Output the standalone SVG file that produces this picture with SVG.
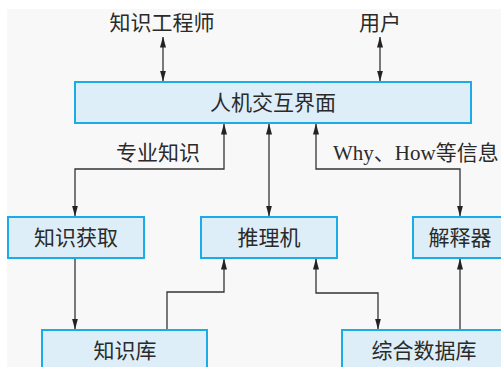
<svg xmlns="http://www.w3.org/2000/svg" width="501" height="367" viewBox="0 0 501 367">
<style>
.box{fill:#ddeef8;stroke:#1babe6;stroke-width:2}
.lbl{font-family:"Noto Sans CJK SC",sans-serif;font-size:21px;fill:#2a2a2a;text-anchor:middle}
.txt{font-family:"Liberation Serif","Noto Sans CJK SC",serif;font-size:21px;fill:#2a2a2a}
.cn{fill:none;stroke:#333;stroke-width:1.3;marker-end:url(#ah)}
.bi{marker-start:url(#ah)}
</style>
<defs>
<marker id="ah" markerUnits="userSpaceOnUse" markerWidth="11" markerHeight="6" viewBox="0 0 11 6" refX="10.5" refY="3" orient="auto-start-reverse">
<path d="M0,0 L11,3 L0,6 z" fill="#222"/>
</marker>
</defs>
<rect x="0" y="0" width="501" height="367" fill="#ffffff"/>
<rect x="7" y="9" width="494" height="358" fill="#f8f8f8"/>
<g id="connectors">
<path class="cn bi" d="M163,37 V81"/>
<path class="cn bi" d="M380,37 V81"/>
<path class="cn bi" d="M75,216 V169 H224 V124"/>
<path class="cn bi" d="M269,124 V216"/>
<path class="cn bi" d="M316,124 V169 H460 V216"/>
<path class="cn" d="M75,259 V329"/>
<path class="cn" d="M167,330 V292 H224 V259"/>
<path class="cn bi" d="M316,259 V293 H378 V329"/>
<path class="cn" d="M460,330 V259"/>
</g>
<g id="engineer"><text class="lbl" x="162" y="30">知识工程师</text></g>
<g id="user"><text class="lbl" x="380" y="30">用户</text></g>
<g id="hci"><rect class="box" x="75" y="82" width="396" height="41"/><text class="lbl" x="273" y="110">人机交互界面</text></g>
<g id="label-knowledge"><text class="lbl" x="158" y="160">专业知识</text></g>
<g id="label-why"><text class="txt" x="333" y="160">Why、How等信息</text></g>
<g id="acquisition"><rect class="box" x="8" y="217" width="136" height="41"/><text class="lbl" x="76" y="245">知识获取</text></g>
<g id="inference"><rect class="box" x="201" y="217" width="136" height="41"/><text class="lbl" x="269" y="245">推理机</text></g>
<g id="explainer"><rect class="box" x="413" y="217" width="96" height="41"/><text class="lbl" x="460" y="245">解释器</text></g>
<g id="kb"><rect class="box" x="42" y="330" width="165" height="46"/><text class="lbl" x="125" y="358">知识库</text></g>
<g id="db"><rect class="box" x="342" y="330" width="170" height="46"/><text class="lbl" x="424" y="358">综合数据库</text></g>
</svg>
